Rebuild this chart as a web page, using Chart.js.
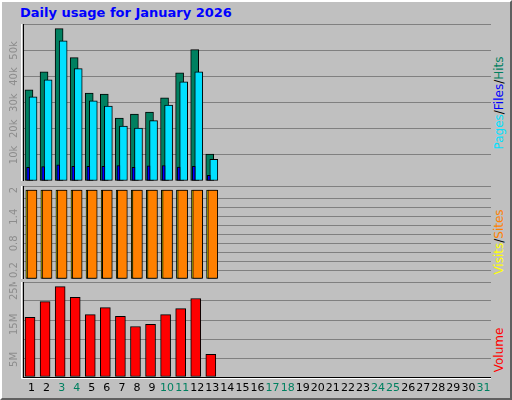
<!DOCTYPE html>
<html><head><meta charset="utf-8">
<script src="https://cdn.jsdelivr.net/npm/chart.js@4"></script>
<style>
html,body{margin:0;padding:0;background:#c0c0c0;}
#frame{position:absolute;left:0;top:0;width:508px;height:396px;border-style:solid;border-width:2px;border-color:#fff #606060 #606060 #fff;background:#c0c0c0;outline:1px solid #000;}
canvas{position:absolute;}
#title{position:absolute;left:20px;top:5px;font:bold 13px "DejaVu Sans";color:#0000ff;}
.rl{position:absolute;font:12px "DejaVu Sans";white-space:nowrap;transform:translate(-50%,-50%) rotate(-90deg);}
</style></head><body>
<div id="frame"></div>
<div id="title">Daily usage for January 2026</div>
<canvas id="c1" style="left:8px;top:24px;width:483px;height:157px"></canvas>
<canvas id="c2" style="left:8px;top:186px;width:483px;height:93px"></canvas>
<canvas id="c3" style="left:8px;top:282px;width:483px;height:117px"></canvas>
<div class="rl" style="left:499px;top:103px"><span style="color:#00e0ff">Pages</span>/<span style="color:#0000ff">Files</span>/<span style="color:#008060">Hits</span></div>
<div class="rl" style="left:499px;top:242px"><span style="color:#ffff00">Visits</span>/<span style="color:#ff8000">Sites</span></div>
<div class="rl" style="left:499px;top:350px;color:#ff0000">Volume</div>
<script>
const days = Array.from({length:31},(_,i)=>String(i+1));
const weekendDays = [3,4,10,11,17,18,24,25,31];
const hits  = [34900,41800,58300,47200,33700,33300,24100,25600,26400,31800,41400,50300,10300];
const files = [32200,38700,53700,43000,30700,28700,21000,20300,23100,29100,38000,41800,8300];
const pages = [5200,5500,6200,5600,5600,5600,5900,5200,5800,5900,5300,5600,2200];
const visits = [2,2,2,2,2,2,2,2,2,2,2,2,2];
const sites  = [2,2,2,2,2,2,2,2,2,2,2,2,2];
const volumeMB = [17000,21500,25800,22700,17800,19800,17300,14400,15000,17800,19500,22400,6500];
const topTicks = ["10k","20k","30k","40k","50k"];
const topTickVals = [10000,20000,30000,40000,50000];
const midTicks = ["0.2","0.8","1.4","2"];
const midTickVals = [0.2,0.8,1.4,2];
const botTicks = ["5M","15M","25M"];
const botTickVals = [5000,15000,25000];

function pts(arr, off){ return arr.map((v,i)=>({x:i+1+off,y:v})); }

function decor(tickVals, tickLabels, showX){
  return {
    id:'decor',
    afterDraw(chart){
      const {ctx, chartArea:a, scales} = chart;
      ctx.save();
      ctx.strokeStyle='#000'; ctx.lineWidth=1;
      ctx.strokeRect(a.left-0.5,a.top-0.5,a.right-a.left+1,a.bottom-a.top+1);
      ctx.strokeStyle='#fff';
      ctx.beginPath();
      ctx.moveTo(a.left-2.5,a.top-2.5);ctx.lineTo(a.right+1.5,a.top-2.5);ctx.lineTo(a.right+1.5,a.bottom+1.5);ctx.lineTo(a.left-2.5,a.bottom+1.5);ctx.closePath();ctx.stroke();
      ctx.fillStyle='#8c8c8c'; ctx.font='10px "DejaVu Sans"'; ctx.textAlign='center'; ctx.textBaseline='middle';
      tickVals.forEach((v,i)=>{
        const y = scales.y.getPixelForValue(v);
        ctx.save(); ctx.translate(a.left-10,y); ctx.rotate(-Math.PI/2); ctx.fillText(tickLabels[i],0,0); ctx.restore();
      });
      if(showX){
        ctx.font='11px "DejaVu Sans"';
        days.forEach((d,i)=>{
          const x = scales.x.getPixelForValue(i+1);
          ctx.fillStyle = weekendDays.includes(i+1)?'#008060':'#000';
          ctx.fillText(d,x,a.bottom+11);
        });
      }
      ctx.restore();
    }
  };
}

function makeChart(id, datasets, max, step, tickVals, tickLabels, showX){
  return new Chart(document.getElementById(id),{
    type:'bar',
    data:{datasets},
    options:{
      animation:false, responsive:false, devicePixelRatio:1,
      layout:{padding:{left:16,right:0,top:0,bottom:showX?22:0}},
      plugins:{legend:{display:false},tooltip:{enabled:false}},
      datasets:{bar:{grouped:false,borderColor:'#000',borderWidth:1,borderSkipped:false}},
      scales:{
        x:{type:'linear',min:0.5,max:31.5,offset:false,display:false},
        y:{min:0,max:max,display:true,border:{display:false},
           ticks:{display:false,stepSize:step},
           grid:{color:'#808080',drawTicks:false,lineWidth:1}}
      }
    },
    plugins:[decor(tickVals,tickLabels,showX)]
  });
}
for (const id of ['c1','c2','c3']){ const c=document.getElementById(id); c.width=parseInt(c.style.width); c.height=parseInt(c.style.height); }

makeChart('c1',[
  {data:pts(pages,-0.23),backgroundColor:'#0000ff',barThickness:3,order:0},
  {data:pts(files,0.1),backgroundColor:'#00e0ff',barThickness:8,order:1},
  {data:pts(hits,-0.17),backgroundColor:'#008060',barThickness:8,order:2}
],60100,10000,topTickVals,topTicks,false);

makeChart('c2',[
  {data:pts(sites,0.03),backgroundColor:'#ff8000',barThickness:10,order:0},
  {data:pts(visits,-0.05),backgroundColor:'#ffff00',barThickness:10,order:1}
],2.09,0.2,midTickVals,midTicks,false);

makeChart('c3',[
  {data:pts(volumeMB,-0.1),backgroundColor:'#ff0000',barThickness:10}
],27100,5000,botTickVals,botTicks,true);
</script>
</body></html>
